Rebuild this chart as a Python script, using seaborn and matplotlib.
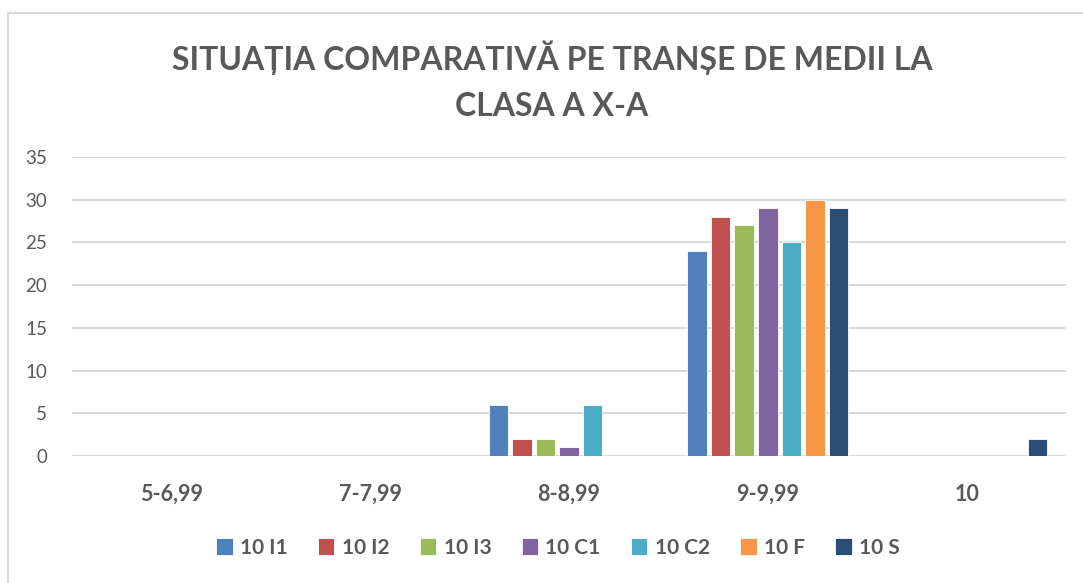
import numpy as np
import pandas as pd
import seaborn as sns
import matplotlib
matplotlib.use('Agg')
import matplotlib.pyplot as plt
from matplotlib.patches import Rectangle

# Data.
categories = ["5-6,99", "7-7,99", "8-8,99", "9-9,99", "10"]
classes = ["10 I1", "10 I2", "10 I3", "10 C1", "10 C2", "10 F", "10 S"]
v_10_i1 = [0, 0, 6, 24, 0]
v_10_i2 = [0, 0, 2, 28, 0]
v_10_i3 = [0, 0, 2, 27, 0]
v_10_c1 = [0, 0, 1, 29, 0]
v_10_c2 = [0, 0, 6, 25, 0]
v_10_f = [0, 0, 0, 30, 0]
v_10_s = [0, 0, 0, 29, 2]
colors = ["#4F81BD", "#C0504D", "#9BBB59", "#8064A2", "#4BACC6", "#F79646", "#2C4D75"]

series = [v_10_i1, v_10_i2, v_10_i3, v_10_c1, v_10_c2, v_10_f, v_10_s]
rows = []
for cls, vals in zip(classes, series):
    for cat, v in zip(categories, vals):
        rows.append({"tranșa": cat, "clasa": cls, "elevi": v})
df = pd.DataFrame(rows)

sns.set_theme(style="white")
plt.rcParams['font.family'] = ['Lato', 'DejaVu Sans']
text_color = "#595959"
grid_color = "#D9D9D9"

fig = plt.figure(figsize=(10.83, 5.83), dpi=100)
ax = fig.add_axes([72 / 1083, 1 - 456 / 583, (1066 - 72) / 1083, (456 - 157) / 583])

sns.barplot(data=df, x="tranșa", y="elevi", hue="clasa", order=categories,
            hue_order=classes, palette=colors, saturation=1, width=0.83, gap=0.17,
            edgecolor="white", linewidth=0.6, ax=ax, legend=True)

ax.set_ylim(0, 35)
ax.set_xlim(-0.5, len(categories) - 0.5)
ax.set_yticks(np.arange(0, 36, 5))
ax.yaxis.grid(True, color=grid_color, linewidth=1.4)
ax.set_axisbelow(True)
for s in ax.spines.values():
    s.set_visible(False)
ax.set_xlabel("")
ax.set_ylabel("")
ax.tick_params(axis="x", length=0, pad=20, labelsize=15.5, labelcolor=text_color)
ax.tick_params(axis="y", length=0, pad=18, labelsize=13.5, labelcolor=text_color)
for lbl in ax.get_xticklabels():
    lbl.set_fontweight("bold")

handles, labels = ax.get_legend_handles_labels()
ax.get_legend().remove()
leg = fig.legend(handles, labels, loc="center", bbox_to_anchor=(558 / 1083, 1 - 548 / 583),
                 ncol=7, frameon=False, handlelength=0.8, handleheight=0.9,
                 handletextpad=0.35, columnspacing=1.45,
                 prop={"size": 15, "weight": "bold"})
for t in leg.get_texts():
    t.set_color(text_color)

fig.text(552 / 1083, 1 - 58 / 583, "SITUAȚIA COMPARATIVĂ PE TRANȘE DE MEDII LA",
         ha="center", va="center", fontsize=23, fontweight="bold", color=text_color)
fig.text(552 / 1083, 1 - 107 / 583, "CLASA A X-A",
         ha="center", va="center", fontsize=23, fontweight="bold", color=text_color)

# Chart area border (runs off the right and bottom of the image).
fig.patches.append(Rectangle((8 / 1083, -0.1), 1.2, 1.1 - 13 / 583,
                             transform=fig.transFigure, fill=False,
                             edgecolor=grid_color, linewidth=1.5))

fig.savefig("out.png", dpi=100)
plt.close()
